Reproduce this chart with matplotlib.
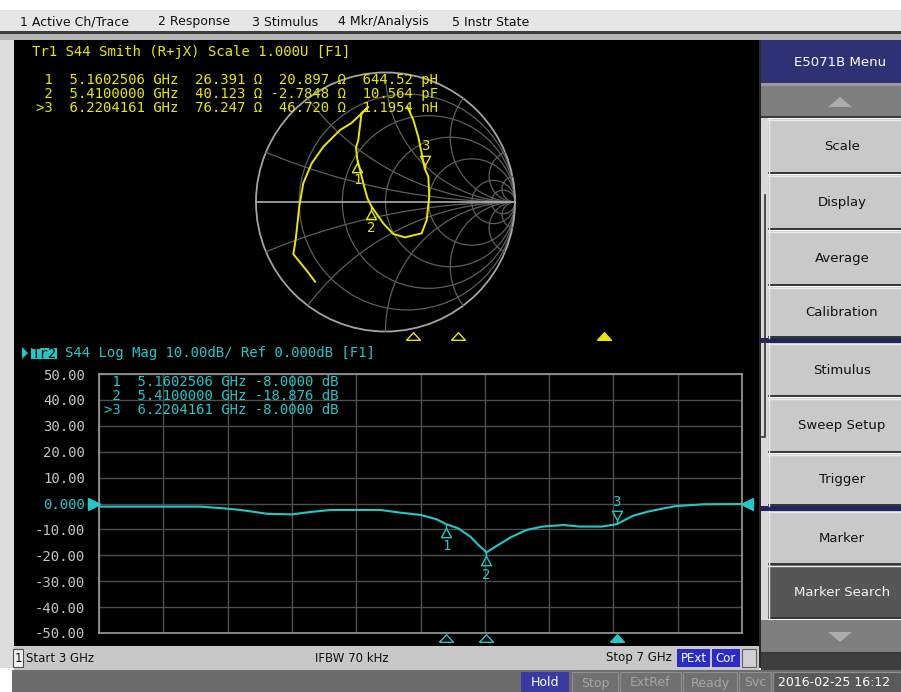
import matplotlib
matplotlib.use("Agg")
import matplotlib.pyplot as plt
import matplotlib.transforms as mtransforms
from matplotlib.patches import Rectangle, Polygon, Circle
from matplotlib.path import Path
import numpy as np

W, H = 901, 692

# Tr2: S44 log magnitude
freq_ghz = [3.00, 3.63, 3.78, 3.88, 3.96, 4.05, 4.20, 4.30, 4.44, 4.75, 4.87,
            5.00, 5.10, 5.1602506, 5.235, 5.31, 5.36, 5.41, 5.45, 5.56, 5.66,
            5.76, 5.89, 5.99, 6.13, 6.2204161, 6.32, 6.41, 6.51, 6.59, 6.76, 7.00]
s44_db = [-1.2, -1.2, -1.9, -2.5, -3.2, -4.0, -4.2, -3.4, -2.5, -2.5, -3.5,
          -4.4, -6.1, -8.0, -9.6, -12.8, -16.0, -18.876, -17.3, -13.1, -10.2,
          -8.9, -8.3, -8.9, -8.9, -8.0, -4.8, -3.2, -1.9, -1.0, -0.3, -0.2]

# Tr1: S44 on the Smith chart, reflection coefficient
gamma_re = [-0.544, -0.600, -0.712, -0.700, -0.691, -0.666, -0.635, -0.570,
            -0.480, -0.351, -0.263, -0.210, -0.133, -0.185, -0.210, -0.228,
            -0.218, -0.171, -0.140, -0.1085, -0.017, 0.060, 0.151, 0.279,
            0.318, 0.338, 0.331, 0.303, 0.253, 0.215, 0.170]
gamma_im = [-0.615, -0.540, -0.402, -0.330, -0.268, -0.036, 0.144, 0.299,
            0.427, 0.556, 0.610, 0.660, 0.734, 0.687, 0.479, 0.420,
            0.333, 0.144, 0.030, -0.034, -0.165, -0.247, -0.273, -0.242,
            -0.139, 0.041, 0.195, 0.258, 0.504, 0.633, 0.734]

# markers
marker_id = ["1", "2", "3"]
marker_freq = [5.1602506, 5.4100000, 6.2204161]
marker_db = [-8.0000, -18.876, -8.0000]
marker_r = [26.391, 40.123, 76.247]
marker_x = [20.897, -2.7848, 46.720]
marker_lc = ["644.52 pH", "10.564 pF", "1.1954 nH"]
z0 = 50.0

smith_r = [0.2, 0.5, 1, 2, 5, 10]
smith_x = [0.2, 0.5, 1, 2, 5, 10]

ytick_vals = [-50, -40, -30, -20, -10, 0, 10, 20, 30, 40, 50]
ytick_text = ["-50.00", "-40.00", "-30.00", "-20.00", "-10.00", "0.000",
              "10.00", "20.00", "30.00", "40.00", "50.00"]

menu_items = ["1 Active Ch/Trace", "2 Response", "3 Stimulus", "4 Mkr/Analysis", "5 Instr State"]
menu_x = [20, 158, 252, 338, 452]

YEL = "#e8e800"
CYN = "#22c8c8"
MONO = "DejaVu Sans Mono"
SANS = "DejaVu Sans"

fig = plt.figure(figsize=(W / 100, H / 100), dpi=100, facecolor="white")
bg = fig.add_axes([0, 0, 1, 1], zorder=0)
fg = fig.add_axes([0, 0, 1, 1], zorder=10)
for a in (bg, fg):
    a.set_xlim(0, W)
    a.set_ylim(H, 0)
    a.axis("off")
fg.patch.set_alpha(0)


def box(x0, y0, x1, y1, fc, ec="none", lw=0):
    bg.add_patch(Rectangle((x0, y0), x1 - x0, y1 - y0, facecolor=fc,
                           edgecolor=ec, linewidth=lw))


# window chrome
box(0, 10, W, 31, "#e6e6e6")
box(0, 31, W, 34, "#3c3c3c")
box(0, 34, W, 40, "#b4b4b4")
box(0, 40, 14, 668, "#dcdcdc")
box(14, 40, 759, 646, "black")
box(14, 646, 759, 670, "#c8c8c8")
box(12, 670, W, H, "#6c6c6c")
box(759, 40, 768, 668, "#d8d8d8")
box(759, 40, 761, 668, "#2a2a2a")
bg.plot([765, 765, 762], [195, 437, 437], color="#303030", lw=1.2)

for t, x in zip(menu_items, menu_x):
    fg.text(x, 22, t, fontsize=9, family=SANS, color="#101010", va="center")

# soft keys
box(761, 40, W, 83, "#2e3174")
fg.text(840, 62, "E5071B Menu", fontsize=9.5, family=SANS, color="white",
        ha="center", va="center")
box(761, 83, W, 86, "#9a9a9a")


def arrow_key(y0, y1, up):
    box(761, y0, W, y1, "#7e7e7e")
    box(761, y1 - 2, W, y1, "#3a3a3a")
    yc = (y0 + y1) / 2
    d = -5 if up else 5
    bg.add_patch(Polygon([[828, yc - d], [852, yc - d], [840, yc + d]][::1] if not up
                         else [[828, yc + 5], [852, yc + 5], [840, yc - 5]],
                         closed=True, facecolor="#adadad", edgecolor="none"))


def softkey(y0, y1, label, fc="#c9c9c9", tc="#111111"):
    box(768, y0, W, y1, fc)
    bg.plot([768, W], [y0 + 1, y0 + 1], color="#ececec", lw=1)
    bg.plot([769, 769], [y0, y1], color="#ececec", lw=1)
    box(768, y1 - 2, W, y1, "#383838")
    fg.text(842, (y0 + y1) / 2, label, fontsize=9.5, family=SANS, color=tc,
            ha="center", va="center")


arrow_key(86, 118, True)
softkey(119, 174, "Scale")
softkey(175, 230, "Display")
softkey(231, 286, "Average")
softkey(287, 338, "Calibration")
box(761, 338, W, 343, "#22235e")
softkey(343, 397, "Stimulus")
softkey(398, 453, "Sweep Setup")
softkey(454, 506, "Trigger")
box(761, 506, W, 511, "#22235e")
softkey(511, 565, "Marker")
softkey(565, 619, "Marker Search", fc="#565656", tc="#f2f2f2")
arrow_key(620, 654, False)
box(761, 654, W, 670, "#3e3e3e")

# status bar
box(13, 649, 23, 667, "#f0f0f0", ec="#505050", lw=0.8)
fg.text(18, 658, "1", fontsize=8.5, family=SANS, color="#101010", ha="center", va="center")
fg.text(26, 658, "Start 3 GHz", fontsize=8.5, family=SANS, color="#101010", va="center")
fg.text(352, 658, "IFBW 70 kHz", fontsize=8.5, family=SANS, color="#101010",
        ha="center", va="center")
fg.text(672, 658, "Stop 7 GHz", fontsize=8.5, family=SANS, color="#101010",
        ha="right", va="center")
box(677, 649, 710, 667, "#2b2bc8")
fg.text(693.5, 658, "PExt", fontsize=8.5, family=SANS, color="white", ha="center", va="center")
box(712, 649, 740, 667, "#2b2bc8")
fg.text(726, 658, "Cor", fontsize=8.5, family=SANS, color="white", ha="center", va="center")
box(742, 649, 756, 667, "#d0d0d0", ec="#606060", lw=0.8)

# bottom status line
box(521, 672, 569, H, "#3a3aa4")
fg.text(545, 683, "Hold", fontsize=9, family=SANS, color="white", ha="center", va="center")
for lab, x0, x1 in [("Stop", 572, 618), ("ExtRef", 620, 681), ("Ready", 683, 737), ("Svc", 739, 771)]:
    box(x0, 672, x1, H, "#707070", ec="#909090", lw=0.8)
    fg.text((x0 + x1) / 2, 683, lab, fontsize=9, family=SANS, color="#a6a6a6",
            ha="center", va="center")
box(773, 672, W, H, "#5a5a5a", ec="#909090", lw=0.8)
fg.text(778, 683, "2016-02-25 16:12", fontsize=9, family=SANS, color="white", va="center")

# custom marker shapes (tip at the data point)
M, L = Path.MOVETO, Path.LINETO
mk_below = Path([(0, 0), (0, -0.3), (-0.38, -1), (0.38, -1), (0, -0.3)], [M, L, L, L, L])
mk_above = Path([(0, 0), (0, 0.3), (-0.38, 1), (0.38, 1), (0, 0.3)], [M, L, L, L, L])
tri_flat = Path([(-1, -0.55), (1, -0.55), (0, 0.55), (-1, -0.55)], [M, L, L, L])

# ---------------- Tr1 Smith chart ----------------
fg.text(31.7, 52, "Tr1 S44 Smith (R+jX) Scale 1.000U [F1]", fontsize=10.1,
        family=MONO, color=YEL, va="center")
for i in range(3):
    pre = ">" if i == 2 else " "
    line = "%s%s  %.7f GHz  %6.3f \u03a9 %7s \u03a9  %s" % (
        pre, marker_id[i], marker_freq[i], marker_r[i],
        ("%.4f" % marker_x[i]) if abs(marker_x[i]) < 10 else ("%.3f" % marker_x[i]),
        marker_lc[i])
    fg.text(36.5, 80 + 13.8 * i, line, fontsize=10.1, family=MONO, color=YEL, va="center")

sm = fig.add_axes([256 / W, 1 - 331.5 / H, 259 / W, 259 / H], zorder=2)
sm.set_xlim(-1, 1)
sm.set_ylim(-1, 1)
sm.axis("off")
sm.patch.set_alpha(0)

gcol = "#5e5e5e"
for r in smith_r:
    sm.add_patch(Circle((r / (1 + r), 0), 1 / (1 + r), fill=False, edgecolor=gcol, lw=0.9))
s = np.tan(np.linspace(0, np.pi / 2 - 1e-3, 600))
for xv in smith_x:
    for sg in (1, -1):
        z = s + 1j * sg * xv
        g = (z - 1) / (z + 1)
        sm.plot(g.real, g.imag, color=gcol, lw=0.9)
sm.add_patch(Circle((0, 0), 1, fill=False, edgecolor="#a4a4a4", lw=1.3, clip_on=False))
sm.plot([-1, 1], [0, 0], color="#b0b0b0", lw=1.2, clip_on=False)

sm.plot(gamma_re, gamma_im, color=YEL, lw=1.4, clip_on=False)

for i in range(3):
    z = complex(marker_r[i], marker_x[i]) / z0
    g = (z - 1) / (z + 1)
    above = (i == 2)
    sm.plot(g.real, g.imag, marker=mk_above if above else mk_below, ms=19,
            mfc="none", mec=YEL, mew=1.0, clip_on=False)
    sm.annotate(marker_id[i], (g.real, g.imag), xytext=(0, 16 if above else -15.5),
                textcoords="offset points", ha="center", va="center",
                fontsize=10, family=MONO, color=YEL)

st = fig.add_axes([24 / W, 1 - 341 / H, 720 / W, 10 / H], zorder=2)
st.set_xlim(3, 7)
st.set_ylim(0, 1)
st.axis("off")
st.patch.set_alpha(0)
for i in range(3):
    st.plot(marker_freq[i], 0.5, marker=tri_flat, ms=10, mec=YEL,
            mfc=YEL if i == 2 else "none", mew=1.0, clip_on=False)

# ---------------- Tr2 Log Mag ----------------
bg.add_patch(Polygon([[22, 347], [22, 359], [28, 353]], closed=True, facecolor=CYN))
box(30.5, 347.5, 57, 359, CYN)
fg.text(31.5, 353.5, "Tr2", fontsize=10.1, family=MONO, color="black", va="center")
fg.text(65.3, 353.5, "S44 Log Mag 10.00dB/ Ref 0.000dB [F1]", fontsize=10.1,
        family=MONO, color=CYN, va="center")

ax = fig.add_axes([99 / W, 1 - 633 / H, 643 / W, 259 / H], zorder=2)
ax.set_facecolor("none")
ax.set_xlim(3, 7)
ax.set_ylim(-50, 50)
ax.set_xticks(np.linspace(3, 7, 11))
ax.set_yticks(ytick_vals)
ax.set_yticklabels(ytick_text, family=MONO, fontsize=10.1, color="#c4c4c4")
ax.get_yticklabels()[5].set_color(CYN)
ax.tick_params(length=0, labelbottom=False, pad=10)
ax.grid(True, color="#4e4e4e", lw=1)
ax.set_axisbelow(True)
for sp in ax.spines.values():
    sp.set_color("#9c9c9c")
    sp.set_linewidth(1.2)

ax.plot(freq_ghz, s44_db, color=CYN, lw=1.5, zorder=3)

for i in range(3):
    above = (i == 2)
    ax.plot(marker_freq[i], marker_db[i], marker=mk_above if above else mk_below,
            ms=19, mfc="none", mec=CYN, mew=1.0, zorder=4, clip_on=False)
    ax.annotate(marker_id[i], (marker_freq[i], marker_db[i]),
                xytext=(0, 16 if above else (-15.5 if i == 0 else -16.5)),
                textcoords="offset points", ha="center", va="center",
                fontsize=10, family=MONO, color=CYN)

bot = mtransforms.blended_transform_factory(ax.transData, ax.transAxes)
for i in range(3):
    ax.plot(marker_freq[i], -0.019, marker=tri_flat, ms=10, mec=CYN,
            mfc=CYN if i == 2 else "none", mew=1.0, transform=bot, clip_on=False)

side = mtransforms.blended_transform_factory(ax.transAxes, ax.transData)
ax.plot(-0.008, 0, marker=">", ms=9, color=CYN, transform=side, clip_on=False)
ax.plot(1.008, 0, marker="<", ms=9, color=CYN, transform=side, clip_on=False)

for i in range(3):
    pre = ">" if i == 2 else " "
    line = "%s%s  %.7f GHz %7s dB" % (pre, marker_id[i], marker_freq[i],
                                      ("%.4f" % marker_db[i]) if abs(marker_db[i]) < 10
                                      else ("%.3f" % marker_db[i]))
    fg.text(104, 381.5 + 14 * i, line, fontsize=10.1, family=MONO, color=CYN, va="center")

fig.savefig("out.png", dpi=100, facecolor=fig.get_facecolor())
